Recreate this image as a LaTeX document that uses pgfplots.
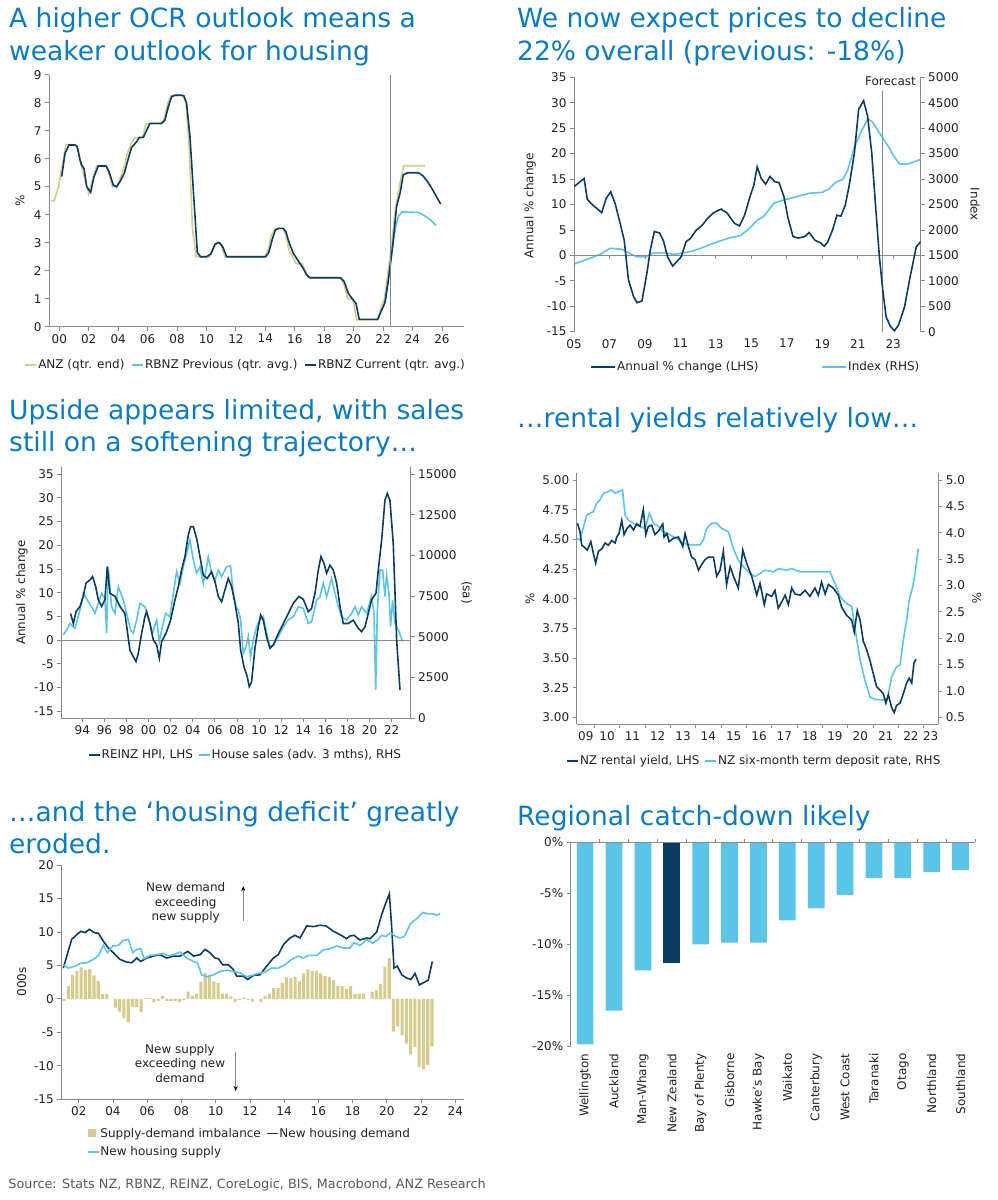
\documentclass[border=0pt]{standalone}
\usepackage{fontspec}
\setmainfont{DejaVu Sans}
\usepackage{pgfplots}
\pgfplotsset{compat=1.18}
\usetikzlibrary{arrows.meta}
\definecolor{navy}{HTML}{0B3D62}
\definecolor{lblue}{HTML}{5BC5E8}
\definecolor{khaki}{HTML}{D5CB8C}
\definecolor{tblue}{HTML}{0B7BBF}
\definecolor{axg}{HTML}{8A8A8A}
\definecolor{txt}{HTML}{222222}
\definecolor{srcg}{HTML}{595959}
\newcommand\tfont{\fontsize{12}{14.7}\selectfont}
\newcommand\ttl{\fontsize{26.5}{32}\selectfont}
\pgfplotsset{
  base/.style={
    scale only axis, anchor=north west, clip mode=individual,
    axis line style={draw=axg, line width=0.8pt},
    tick style={draw=axg, line width=0.8pt},
    tick align=outside, major tick length=4pt,
    ticklabel style={font=\tfont, text=txt},
    label style={font=\tfont, text=txt},
    scaled ticks=false,
    /pgf/number format/assume math mode=true,
    /pgf/number format/1000 sep={},
    legend style={draw=none, fill=none, font=\tfont, text=txt, legend cell align=left, inner sep=0pt, nodes={inner sep=1pt}},
    legend image code/.code={\draw[##1] (0pt,0pt) -- (11pt,0pt);},
  },
  dk/.style={navy, line width=1.6pt},
  lb/.style={lblue, line width=1.6pt},
}
\begin{document}
\begin{tikzpicture}
\useasboundingbox (0,0) rectangle (998pt,-1200pt);
%================ Panel 1
\begin{axis}[base, at={(49pt,-74.7pt)}, width=415pt, height=252pt,
  xmin=-0.7, xmax=27.5, ymin=0, ymax=9,
  axis x line*=bottom, axis y line*=left,
  xtick={0,2,...,26}, xticklabels={00,02,04,06,08,10,12,14,16,18,20,22,24,26},
  ytick={0,1,...,9},
  ylabel={\%}, ylabel style={at={(axis description cs:-0.07,0.5)}, anchor=center},
  legend columns=3,
  legend style={at={(0.473,-0.152)}, anchor=center, /tikz/every even column/.append style={column sep=6pt}}]
\addplot[khaki, line width=1.6pt] coordinates {(-0.55,4.5)(-0.35,4.5)(-0.05,5.0)(0.2,5.75)(0.45,6.5)(1.1,6.5)(1.3,6.25)(1.5,5.75)(1.75,5.25)(2.0,4.75)(2.25,5.25)(2.55,5.75)(3.2,5.75)(3.4,5.4)(3.62,5.0)(3.9,5.0)(4.1,5.25)(4.35,5.6)(4.6,6.15)(4.85,6.5)(5.1,6.75)(5.65,6.75)(5.9,7.25)(6.95,7.25)(7.15,7.5)(7.38,8.0)(7.6,8.25)(8.4,8.25)(8.6,8.0)(8.82,6.5)(9.05,3.5)(9.3,2.5)(10.2,2.5)(10.45,2.75)(10.7,3.0)(10.95,3.0)(11.25,2.5)(13.95,2.5)(14.2,2.75)(14.4,3.25)(14.65,3.5)(15.2,3.5)(15.4,3.25)(15.6,2.75)(15.85,2.5)(16.1,2.25)(16.5,2.25)(16.7,2.0)(16.95,1.75)(19.1,1.75)(19.35,1.5)(19.6,1.0)(19.95,1.0)(20.2,0.25)(21.65,0.25)(21.9,0.75)(22.1,1.0)(22.35,2.0)(22.6,3.0)(22.85,4.25)(23.1,5.0)(23.4,5.75)(24.85,5.75)};
\addlegendentry{ANZ (qtr. end)}
\addplot[lb] coordinates {(22.13,0.86)(22.36,1.67)(22.62,2.8)(22.85,3.55)(23.05,3.95)(23.3,4.1)(24.4,4.08)(24.7,4.0)(25.0,3.9)(25.3,3.78)(25.6,3.61)};
\addlegendentry{RBNZ Previous (qtr. avg.)}
\addplot[dk] coordinates {(0.16,5.36)(0.39,6.19)(0.66,6.49)(1.07,6.49)(1.22,6.43)(1.41,5.95)(1.52,5.77)(1.68,5.65)(1.86,5.0)(2.13,4.80)(2.36,5.36)(2.65,5.74)(3.17,5.74)(3.38,5.54)(3.67,5.06)(3.90,5.0)(4.12,5.18)(4.42,5.48)(4.69,6.01)(4.91,6.40)(5.26,6.61)(5.44,6.76)(5.71,6.76)(5.94,7.02)(6.16,7.26)(6.95,7.26)(7.18,7.38)(7.41,7.86)(7.63,8.21)(7.86,8.27)(8.31,8.27)(8.47,8.24)(8.65,7.98)(8.88,6.79)(9.15,4.52)(9.38,2.65)(9.60,2.5)(10.01,2.5)(10.3,2.6)(10.57,2.94)(10.85,3.01)(11.1,2.86)(11.37,2.5)(14.02,2.5)(14.23,2.64)(14.46,3.1)(14.68,3.45)(14.89,3.51)(15.23,3.51)(15.4,3.39)(15.63,2.98)(15.9,2.62)(16.24,2.35)(16.58,2.08)(16.8,1.85)(17.03,1.75)(19.11,1.75)(19.36,1.61)(19.64,1.19)(19.93,0.98)(20.16,0.83)(20.38,0.26)(21.63,0.26)(21.86,0.54)(22.13,0.86)(22.36,1.67)(22.65,2.86)(22.92,4.29)(23.15,4.76)(23.37,5.42)(23.65,5.5)(24.4,5.5)(24.73,5.38)(25.18,5.06)(25.64,4.64)(25.91,4.38)};
\addlegendentry{RBNZ Current (qtr. avg.)}
\draw[axg, line width=1pt] (axis cs:22.5,0) -- (axis cs:22.5,9);
\end{axis}
%================ Panel 2 RHS
\begin{axis}[base, at={(574pt,-77.3pt)}, width=346.7pt, height=254.4pt,
  xmin=5, xmax=24.55, ymin=0, ymax=5000,
  axis y line*=right, axis x line=none,
  ytick={0,500,...,5000},
  ylabel={Index}, ylabel style={at={(axis description cs:1.157,0.5)}, anchor=center, rotate=180}]
\addplot[lb] coordinates {(5.0,1330)(5.72,1420)(6.47,1520)(7.04,1640)(7.7,1620)(8.07,1550)(8.55,1470)(9.02,1470)(9.49,1550)(10.15,1550)(10.62,1520)(11.19,1550)(11.75,1590)(12.22,1650)(12.88,1740)(13.64,1830)(14.39,1890)(14.86,2020)(15.33,2190)(15.71,2270)(16.28,2530)(16.84,2590)(17.31,2630)(17.6,2660)(18.26,2720)(19.01,2740)(19.39,2810)(19.77,2940)(20.15,2990)(20.43,3170)(20.81,3630)(21.18,3920)(21.56,4180)(21.84,4120)(22.31,3860)(22.69,3660)(23.07,3430)(23.35,3300)(23.73,3290)(24.2,3340)(24.55,3390)};
\end{axis}
%================ Panel 2 LHS
\begin{axis}[base, at={(574pt,-77.3pt)}, width=346.7pt, height=254.4pt,
  xmin=5, xmax=24.55, ymin=-15, ymax=35,
  axis y line*=left, axis x line*=bottom, x axis line style={draw=none}, major x tick style={draw=none},
  xtick={5,7,...,23}, xticklabels={05,07,09,11,13,15,17,19,21,23},
  ytick={-15,-10,...,35},
  ylabel={Annual \% change}, ylabel style={at={(axis description cs:-0.127,0.495)}, anchor=center},
  legend columns=2,
  legend image code/.code={\draw[#1] (0pt,0pt) -- (24pt,0pt);},
  legend style={at={(0.5235,-0.139)}, anchor=center, /tikz/every even column/.append style={column sep=62pt}}]
\draw[axg, line width=0.8pt] (axis cs:5,0) -- (axis cs:24.55,0);
\pgfplotsinvokeforeach{7,9,11,13,15,17,19,21,23}{\draw[axg, line width=0.8pt] (axis cs:#1,0) -- ([yshift=-4pt]axis cs:#1,0);}
\draw[axg, line width=1pt] (axis cs:22.4,-15) -- (axis cs:22.4,32.4);
\addplot[dk] coordinates {(5.0,13.5)(5.57,15.1)(5.75,11.0)(6.09,9.8)(6.56,8.4)(6.81,11.2)(7.07,12.5)(7.32,10.2)(7.6,6.3)(7.83,3.0)(8.07,-4.8)(8.36,-8.1)(8.55,-9.3)(8.83,-9.0)(9.11,-3.5)(9.3,1.0)(9.53,4.7)(9.83,4.4)(10.05,2.8)(10.28,-0.3)(10.56,-2.1)(10.81,-1.2)(11.04,-0.3)(11.32,2.7)(11.56,3.3)(11.9,5.0)(12.22,5.9)(12.54,7.3)(12.88,8.4)(13.3,9.1)(13.64,8.3)(14.05,6.3)(14.33,5.8)(14.62,7.9)(14.92,11.5)(15.14,13.8)(15.33,17.4)(15.56,15.1)(15.8,14.0)(16.05,15.5)(16.31,14.5)(16.56,14.3)(16.84,11.5)(17.07,7.3)(17.35,3.7)(17.63,3.4)(18.01,3.7)(18.26,4.5)(18.58,3.0)(18.88,2.5)(19.11,1.8)(19.3,2.6)(19.58,5.0)(19.83,7.9)(20.05,7.7)(20.3,9.9)(20.52,13.8)(20.81,20.1)(21.05,28.7)(21.33,30.4)(21.56,27.3)(21.79,20.1)(21.98,10.9)(22.22,-0.3)(22.41,-6.8)(22.6,-12.1)(22.85,-14.0)(23.07,-14.8)(23.3,-13.7)(23.64,-10.1)(23.92,-4.8)(24.3,1.7)(24.55,2.7)};
\addlegendentry{Annual \% change (LHS)}
\addlegendimage{lb}
\addlegendentry{Index (RHS)}
\end{axis}
%================ Panel 3 RHS
\begin{axis}[base, at={(61.3pt,-466.7pt)}, width=349.4pt, height=251.6pt,
  xmin=-7.9, xmax=23.72, ymin=0, ymax=15448,
  axis y line*=right, axis x line=none,
  ytick={0,2500,...,15000},
  ylabel={(sa)}, ylabel style={at={(axis description cs:1.16,0.5)}, anchor=center, rotate=180}]
\addplot[lb] coordinates {(-7.72,5115)(-7.42,5420)(-7.12,5830)(-6.66,5520)(-6.21,6650)(-5.91,7670)(-5.55,7260)(-5.16,6850)(-4.85,6440)(-4.55,7060)(-4.25,7670)(-3.95,7360)(-3.8,5220)(-3.65,9310)(-3.35,6850)(-3.04,6440)(-2.74,8080)(-2.29,7260)(-1.99,6440)(-1.63,5420)(-1.38,5220)(-1.08,6040)(-0.78,7060)(-0.33,6850)(0.03,6040)(0.36,5220)(0.73,6040)(0.97,4700)(1.18,5420)(1.54,6440)(1.93,6240)(2.24,7670)(2.54,9000)(2.84,8290)(3.14,9310)(3.44,10130)(3.74,10950)(4.05,9720)(4.35,8900)(4.65,9310)(4.95,8290)(5.25,9310)(5.4,9920)(5.7,8900)(6.01,8490)(6.31,9100)(6.61,8700)(7.06,9310)(7.42,9350)(7.66,7670)(7.91,6850)(8.12,6650)(8.33,6040)(8.57,3990)(8.81,4400)(9.02,5010)(9.23,3790)(9.48,4810)(9.78,5630)(10.08,6040)(10.38,6240)(10.68,5220)(10.98,4400)(11.29,4500)(11.74,5010)(12.19,5630)(12.64,6040)(13.1,6240)(13.55,6850)(14.0,6750)(14.45,5830)(14.75,5930)(15.21,7260)(15.51,7470)(15.81,8290)(16.11,7470)(16.56,8590)(16.87,7670)(17.17,6850)(17.47,6240)(17.92,6040)(18.37,6440)(18.68,6850)(18.98,6340)(19.28,6850)(19.73,6440)(20.18,7470)(20.4,6440)(20.55,1740)(20.7,6650)(20.94,9100)(21.18,9100)(21.39,7470)(21.54,8800)(21.75,7670)(21.9,5630)(22.08,7260)(22.3,5830)(22.6,5420)(22.99,4710)};
\end{axis}
%================ Panel 3 LHS
\begin{axis}[base, at={(61.3pt,-466.7pt)}, width=349.4pt, height=251.6pt,
  xmin=-7.9, xmax=23.72, ymin=-16.47, ymax=36.54,
  axis y line*=left, axis x line*=bottom,
  xtick={-6,-4,...,22}, xticklabels={94,96,98,00,02,04,06,08,10,12,14,16,18,20,22},
  ytick={-15,-10,...,35},
  ylabel={Annual \% change}, ylabel style={at={(axis description cs:-0.113,0.5)}, anchor=center},
  legend columns=2,
  legend style={at={(0.526,-0.146)}, anchor=center, /tikz/every even column/.append style={column sep=4pt}}]
\draw[axg, line width=0.8pt] (axis cs:-7.9,0) -- (axis cs:23.72,0);
\addplot[dk] coordinates {(-7.06,5.6)(-6.81,3.5)(-6.57,6.0)(-6.21,7.1)(-5.91,9.2)(-5.67,12.0)(-5.31,12.7)(-5.07,13.4)(-4.79,11.3)(-4.55,8.5)(-4.25,7.1)(-3.95,8.5)(-3.74,15.5)(-3.5,9.9)(-3.04,9.2)(-2.59,7.1)(-2.14,5.6)(-1.69,-2.1)(-1.38,-3.5)(-1.14,-4.5)(-0.93,-2.8)(-0.63,1.4)(-0.33,5.0)(-0.18,6.0)(0.12,3.5)(0.43,0.0)(0.73,-1.0)(0.97,-3.8)(1.18,-0.3)(1.57,1.4)(1.99,4.2)(2.39,8.5)(2.69,11.3)(2.99,14.8)(3.29,17.6)(3.59,22.1)(3.8,23.9)(4.05,23.9)(4.35,21.4)(4.65,17.6)(4.95,13.7)(5.31,13.0)(5.7,14.4)(6.01,12.3)(6.31,9.2)(6.61,8.1)(6.91,10.6)(7.21,13.0)(7.51,11.3)(7.82,7.8)(8.12,3.5)(8.33,-2.1)(8.63,-5.6)(8.93,-7.7)(9.11,-9.8)(9.32,-8.8)(9.63,-1.6)(9.93,2.8)(10.14,5.3)(10.38,4.2)(10.68,0.7)(10.98,-1.7)(11.29,-1.0)(11.74,1.4)(12.19,3.5)(12.64,5.6)(13.1,7.8)(13.61,9.2)(14.0,8.6)(14.45,6.0)(14.75,6.7)(15.06,9.9)(15.36,14.8)(15.6,17.6)(15.87,16.2)(16.11,14.1)(16.41,15.8)(16.71,14.8)(17.02,12.0)(17.32,7.1)(17.62,3.5)(18.07,3.5)(18.52,4.2)(18.98,2.5)(19.28,1.8)(19.58,2.8)(19.88,5.6)(20.18,8.5)(20.58,9.9)(20.79,14.8)(21.09,21.1)(21.39,29.5)(21.6,30.9)(21.84,29.5)(22.14,20.4)(22.45,0.0)(22.75,-10.5)};
\addlegendentry{REINZ HPI, LHS}
\addlegendimage{lb}
\addlegendentry{House sales (adv. 3 mths), RHS}
\end{axis}
%================ Panel 4 RHS
\begin{axis}[base, at={(576.7pt,-472.7pt)}, width=361.6pt, height=251.3pt,
  xmin=9.30, xmax=23.58, ymin=0.374, ymax=5.139,
  axis y line*=right, axis x line=none,
  ytick={0.5,1,...,5},
  yticklabel style={/pgf/number format/.cd, fixed, fixed zerofill, precision=1},
  ylabel={\%}, ylabel style={at={(axis description cs:1.106,0.5)}, anchor=center, rotate=180}]
\addplot[lb] coordinates {(9.33,3.89)(9.43,3.86)(9.57,4.12)(9.7,4.34)(9.83,4.37)(9.96,4.40)(10.09,4.56)(10.22,4.62)(10.36,4.75)(10.55,4.78)(10.68,4.81)(10.82,4.75)(10.95,4.78)(11.11,4.81)(11.21,4.34)(11.34,4.24)(11.54,4.18)(11.8,4.12)(12.0,4.08)(12.17,4.37)(12.33,4.18)(12.53,4.12)(12.72,4.02)(12.99,3.96)(13.25,3.89)(13.51,3.80)(13.78,3.77)(14.17,3.77)(14.3,3.86)(14.43,4.08)(14.63,4.18)(14.83,4.18)(15.03,4.08)(15.29,4.02)(15.49,3.70)(15.68,3.48)(15.88,3.36)(16.14,3.23)(16.34,3.17)(16.54,3.23)(16.74,3.29)(17.07,3.26)(17.26,3.32)(17.59,3.29)(17.79,3.32)(18.12,3.26)(18.38,3.26)(19.3,3.26)(19.5,3.04)(19.7,2.79)(19.96,2.66)(20.16,2.60)(20.29,2.19)(20.49,1.59)(20.68,1.21)(20.88,0.89)(21.08,0.84)(21.41,0.83)(21.57,0.86)(21.74,1.27)(21.93,1.46)(22.07,1.49)(22.2,1.97)(22.33,2.35)(22.43,2.72)(22.57,2.98)(22.66,3.23)(22.79,3.70)};
\end{axis}
%================ Panel 4 LHS
\begin{axis}[base, at={(576.7pt,-472.7pt)}, width=361.6pt, height=251.3pt,
  xmin=9.30, xmax=23.58, ymin=2.944, ymax=5.062,
  axis y line*=left, axis x line*=bottom, major x tick style={draw=none},
  xtick={9.66,10.5,11.5,12.5,13.5,14.5,15.5,16.5,17.5,18.5,19.5,20.5,21.5,22.5,23.28},
  xticklabels={09,10,11,12,13,14,15,16,17,18,19,20,21,22,23},
  ytick={3,3.25,...,5},
  yticklabel style={/pgf/number format/.cd, fixed, fixed zerofill, precision=2},
  ylabel={\%}, ylabel style={at={(axis description cs:-0.129,0.5)}, anchor=center},
  legend columns=2,
  legend style={at={(0.49,-0.147)}, anchor=center, /tikz/every even column/.append style={column sep=4pt}}]
\pgfplotsinvokeforeach{10,11,12,13,14,15,16,17,18,19,20,21,22,23}{\draw[axg, line width=0.8pt] (axis cs:#1,2.944) -- ([yshift=-4pt]axis cs:#1,2.944);}
\addplot[dk] coordinates {(9.33,4.635)(9.43,4.565)(9.5,4.45)(9.63,4.43)(9.72,4.41)(9.86,4.48)(9.96,4.38)(10.05,4.30)(10.16,4.40)(10.29,4.42)(10.42,4.47)(10.55,4.45)(10.68,4.49)(10.82,4.47)(10.88,4.52)(10.97,4.55)(11.08,4.66)(11.17,4.54)(11.28,4.59)(11.41,4.62)(11.54,4.58)(11.67,4.63)(11.8,4.61)(11.93,4.75)(12.03,4.54)(12.13,4.61)(12.26,4.62)(12.39,4.54)(12.53,4.57)(12.7,4.63)(12.75,4.52)(12.86,4.55)(12.95,4.48)(13.12,4.51)(13.32,4.52)(13.49,4.44)(13.58,4.55)(13.71,4.44)(13.84,4.35)(13.97,4.33)(14.11,4.24)(14.24,4.29)(14.37,4.33)(14.5,4.35)(14.7,4.35)(14.83,4.19)(14.96,4.24)(15.09,4.40)(15.22,4.12)(15.36,4.27)(15.49,4.19)(15.68,4.09)(15.86,4.41)(16.01,4.30)(16.21,4.19)(16.41,4.03)(16.54,4.13)(16.71,3.95)(16.8,4.04)(17.0,4.02)(17.13,4.07)(17.26,3.92)(17.39,3.97)(17.53,4.03)(17.66,3.95)(17.79,4.09)(17.92,4.04)(18.12,4.03)(18.32,4.07)(18.51,4.02)(18.71,4.09)(18.84,4.03)(18.97,4.14)(19.11,4.04)(19.24,4.12)(19.43,4.09)(19.63,4.03)(19.76,3.93)(19.96,3.86)(20.16,3.82)(20.26,3.72)(20.38,3.90)(20.49,3.82)(20.62,3.64)(20.75,3.57)(20.88,3.48)(21.01,3.37)(21.14,3.26)(21.28,3.23)(21.41,3.20)(21.51,3.12)(21.61,3.19)(21.74,3.08)(21.84,3.04)(21.93,3.10)(22.07,3.12)(22.2,3.20)(22.33,3.29)(22.43,3.33)(22.53,3.29)(22.62,3.46)(22.7,3.49)};
\addlegendentry{NZ rental yield, LHS}
\addlegendimage{lb}
\addlegendentry{NZ six-month term deposit rate, RHS}
\end{axis}
%================ Panel 5
\begin{axis}[base, at={(61.3pt,-865pt)}, width=402.7pt, height=234.3pt,
  xmin=0.98, xmax=24.51, ymin=-15, ymax=20,
  axis x line*=bottom, axis y line*=left,
  xtick={2,4,...,24}, xticklabels={02,04,06,08,10,12,14,16,18,20,22,24},
  ytick={-15,-10,...,20},
  ylabel={000s}, ylabel style={at={(axis description cs:-0.098,0.502)}, anchor=center},
  legend columns=2,
  legend style={at={(0.063,-0.118)}, anchor=north west, row sep=6pt, /tikz/every even column/.append style={column sep=4pt}}]
\addplot[ybar, bar width=0.18, bar shift=0pt, fill=khaki, draw=none, legend image code/.code={\fill[khaki] (0pt,-4pt) rectangle (8pt,4pt);}] coordinates {(1.14,-0.3)(1.39,1.9)(1.64,3.6)(1.89,4.2)(2.14,4.7)(2.39,4.3)(2.64,4.5)(2.89,3.5)(3.14,2.7)(3.39,0.7)(3.64,0.8)(3.89,0.0)(4.14,-1.3)(4.39,-1.9)(4.64,-2.9)(4.89,-3.5)(5.14,-1.2)(5.39,-1.2)(5.64,-2.0)(5.89,0.1)(6.14,0.1)(6.39,-0.5)(6.64,-0.3)(6.89,0.4)(7.14,-0.3)(7.39,-0.3)(7.64,-0.3)(7.89,-0.5)(8.14,-0.2)(8.39,1.1)(8.64,0.5)(8.89,0.8)(9.14,2.5)(9.39,3.9)(9.64,3.6)(9.89,2.6)(10.14,2.4)(10.39,0.8)(10.64,0.8)(10.89,0.4)(11.14,-0.5)(11.39,-0.2)(11.64,0.2)(11.89,-0.2)(12.14,-0.4)(12.39,0.0)(12.64,-0.5)(12.89,0.5)(13.14,0.8)(13.39,1.6)(13.64,1.6)(13.89,2.4)(14.14,3.2)(14.39,3.1)(14.64,3.3)(14.89,2.6)(15.14,3.8)(15.39,4.4)(15.64,4.2)(15.89,4.2)(16.14,3.8)(16.39,3.4)(16.64,3.3)(16.89,2.8)(17.14,2.0)(17.39,1.9)(17.64,1.5)(17.89,1.9)(18.14,0.8)(18.39,0.8)(18.64,0.8)(18.89,0.0)(19.14,1.1)(19.39,1.3)(19.64,2.2)(19.89,4.8)(20.14,6.1)(20.39,-4.9)(20.64,-4.1)(20.89,-5.4)(21.14,-6.7)(21.39,-8.3)(21.64,-7.2)(21.89,-10.2)(22.14,-10.5)(22.39,-9.9)(22.64,-7.1)};
\addlegendentry{Supply-demand imbalance}
\addplot[dk] coordinates {(1.10,4.6)(1.30,6.4)(1.59,8.9)(1.88,9.6)(2.12,10.1)(2.37,9.9)(2.62,10.4)(2.90,9.9)(3.15,9.8)(3.44,8.6)(3.73,7.6)(4.02,6.9)(4.41,5.9)(4.80,5.5)(5.10,5.4)(5.39,6.1)(5.62,5.6)(5.97,6.1)(6.36,6.4)(6.75,6.6)(7.14,6.1)(7.53,6.4)(7.92,6.4)(8.37,7.1)(8.70,6.4)(9.09,6.6)(9.38,7.4)(9.67,6.9)(9.96,6.1)(10.16,6.0)(10.41,5.1)(10.74,5.1)(11.03,4.4)(11.23,3.4)(11.62,3.4)(11.87,2.9)(12.2,3.5)(12.59,3.6)(12.98,4.9)(13.37,6.1)(13.66,6.6)(13.96,8.1)(14.34,9.1)(14.64,9.5)(14.93,9.1)(15.32,10.9)(15.71,10.8)(16.1,11.0)(16.45,10.9)(16.88,10.1)(17.26,9.6)(17.65,9.0)(17.85,9.4)(18.08,9.5)(18.43,8.8)(18.82,9.1)(19.02,9.0)(19.41,10.0)(19.70,12.6)(19.95,14.4)(20.15,15.7)(20.28,10.9)(20.42,4.6)(20.61,4.9)(20.87,3.6)(21.16,3.1)(21.41,2.9)(21.65,3.8)(21.9,2.1)(22.13,2.4)(22.42,2.8)(22.66,5.6)};
\addlegendentry{New housing demand}
\addplot[lb] coordinates {(1.1,5.1)(1.4,4.6)(1.79,4.9)(2.08,5.3)(2.47,5.4)(2.86,5.9)(3.15,6.5)(3.44,8.0)(3.67,6.9)(3.99,7.9)(4.32,8.0)(4.57,8.7)(4.90,8.9)(5.15,6.9)(5.39,7.4)(5.62,7.5)(5.82,6.0)(6.17,6.5)(6.56,6.6)(6.91,6.8)(7.24,6.4)(7.53,6.6)(7.92,7.0)(8.31,6.1)(8.70,5.6)(8.93,5.4)(9.18,3.6)(9.48,3.3)(9.87,3.6)(10.26,4.1)(10.64,4.3)(11.03,4.1)(11.42,3.9)(11.81,3.3)(12.1,3.5)(12.49,3.8)(12.88,4.0)(13.27,4.6)(13.66,4.6)(14.05,5.1)(14.44,5.9)(14.83,6.4)(15.12,6.1)(15.42,6.5)(15.9,6.5)(16.29,7.3)(16.68,7.5)(17.07,7.9)(17.46,7.6)(17.85,7.6)(18.08,8.4)(18.43,8.0)(18.63,8.4)(18.82,8.9)(19.17,8.3)(19.5,8.9)(19.7,9.5)(19.95,9.3)(20.22,9.9)(20.54,9.3)(20.77,9.1)(21.02,9.3)(21.35,11.1)(21.55,11.6)(21.8,12.1)(22.09,12.9)(22.42,12.7)(22.72,12.7)(22.91,12.5)(23.11,12.7)};
\addlegendentry{New housing supply}
\end{axis}
%================ Panel 6
\begin{axis}[base, at={(570.7pt,-842.3pt)}, width=404.3pt, height=203.7pt,
  xmin=-0.5, xmax=13.5, ymin=-20, ymax=0,
  axis y line*=left, axis x line*=bottom, x axis line style={draw=none}, major x tick style={draw=none},
  xtick={0,1,...,13},
  xticklabels={Wellington,Auckland,Man-Whang,New Zealand,Bay of Plenty,Gisborne,Hawke's Bay,Waikato,Canterbury,West Coast,Taranaki,Otago,Northland,Southland},
  xticklabel style={rotate=90, anchor=east},
  ytick={-20,-15,-10,-5,0}, yticklabels={-20\%,-15\%,-10\%,-5\%,0\%}]
\addplot[ybar, bar width=16.7pt, bar shift=0pt, fill=lblue, draw=none] coordinates {(0,-19.84)(1,-16.53)(2,-12.57)(4,-10.02)(5,-9.85)(6,-9.85)(7,-7.66)(8,-6.48)(9,-5.17)(10,-3.50)(11,-3.50)(12,-2.91)(13,-2.72)};
\addplot[ybar, bar width=16.7pt, bar shift=0pt, fill=navy, draw=none] coordinates {(3,-11.85)};
\draw[axg, line width=0.8pt] (axis cs:-0.5,0) -- (axis cs:13.5,0);
\pgfplotsinvokeforeach{0.5,1.5,2.5,3.5,4.5,5.5,6.5,7.5,8.5,9.5,10.5,11.5,12.5,13.5}{\draw[axg, line width=0.8pt] (axis cs:#1,0) -- ([yshift=3pt]axis cs:#1,0);}
\end{axis}
%================ Titles and notes
\begin{scope}[every node/.style={anchor=base west, inner sep=0pt, font=\ttl, text=tblue}]
\node at (9pt,-27.5pt) {A higher OCR outlook means a};
\node at (9pt,-60.5pt) {weaker outlook for housing};
\node at (517pt,-27.5pt) {We now expect prices to decline};
\node at (517pt,-60.5pt) {22\% overall (previous: -18\%)};
\node at (9pt,-419pt) {Upside appears limited, with sales};
\node at (9pt,-451.5pt) {still on a softening trajectory…};
\node at (517pt,-427pt) {…rental yields relatively low…};
\node at (9pt,-821pt) {…and the ‘housing deficit’ greatly};
\node at (9pt,-853pt) {eroded.};
\node at (517pt,-825pt) {Regional catch-down likely};
\end{scope}
\node[anchor=base east, inner sep=0pt, font=\tfont, text=txt] at (916pt,-85pt) {Forecast};
\node[align=center, font=\tfont, text=txt] at (185.7pt,-902.7pt) {New demand\\exceeding\\new supply};
\node[align=center, font=\tfont, text=txt] at (180pt,-1063.3pt) {New supply\\exceeding new\\demand};
\draw[axg, line width=0.8pt, -{Stealth[length=5pt, width=4pt, black]}] (243.3pt,-920.7pt) -- (243.3pt,-886pt);
\draw[axg, line width=0.8pt, -{Stealth[length=5pt, width=4pt, black]}] (235.7pt,-1051.7pt) -- (235.7pt,-1091pt);
\node[anchor=base west, inner sep=0pt, font=\fontsize{12.8}{15}\selectfont, text=srcg] at (8.3pt,-1188pt) {Source: Stats NZ, RBNZ, REINZ, CoreLogic, BIS, Macrobond, ANZ Research};
\end{tikzpicture}
\end{document}
